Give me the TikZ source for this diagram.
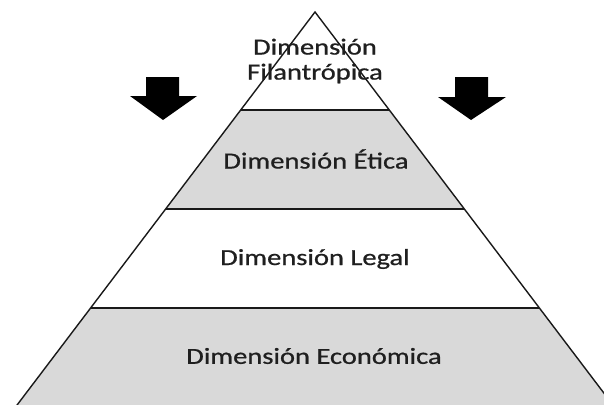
\documentclass[tikz,border=0pt]{standalone}
\usepackage{fontspec}
\setmainfont{Carlito}
\newfontfamily\lblfont[FakeBold=0.7]{Carlito}
\newcommand\wideText[1]{\scalebox{1.24}[1]{#1}}
\definecolor{bandgray}{HTML}{D9D9D9}
\begin{document}
\begin{tikzpicture}[x=1pt,y=-1pt,
  edge/.style={draw=black!90,line width=1.4pt},
  lbl/.style={font=\lblfont\fontsize{23}{25}\selectfont, text=black!88, inner sep=0pt, align=center},
  bigarrow/.style={fill=black}]
\useasboundingbox (0,0) rectangle (604,404);
\clip (0,0) rectangle (604,404);
% bands
\fill[bandgray] (240.7,110) -- (165.7,209) -- (464.3,209) -- (389.3,110) -- cycle;
\fill[bandgray] (90.6,308) -- (5.7,420) -- (624.3,420) -- (539.4,308) -- cycle;
% outline
\draw[edge,line join=miter] (5.7,420) -- (315,12) -- (624.3,420);
\draw[edge] (240.7,110) -- (389.3,110);
\draw[edge] (165.7,209) -- (464.3,209);
\draw[edge] (90.6,308) -- (539.4,308);
% labels
\node[lbl] (filan) at (315,61) {\wideText{Dimensión}\\\wideText{Filantrópica}};
\node[lbl] (etica) at (316,159) {\wideText{Dimensión Ética}};
\node[lbl] (legal) at (315,259) {\wideText{Dimensión Legal}};
\node[lbl] (econ) at (314,356) {\wideText{Dimensión Económica}};
% arrows
\fill[bigarrow] (146,77) -- (179,77) -- (179,96) -- (197,96) -- (163,120) -- (130,96) -- (146,96) -- cycle;
\fill[bigarrow] (455,77) -- (488,77) -- (488,97) -- (506,97) -- (471,120) -- (438,97) -- (455,97) -- cycle;
\end{tikzpicture}
\end{document}
